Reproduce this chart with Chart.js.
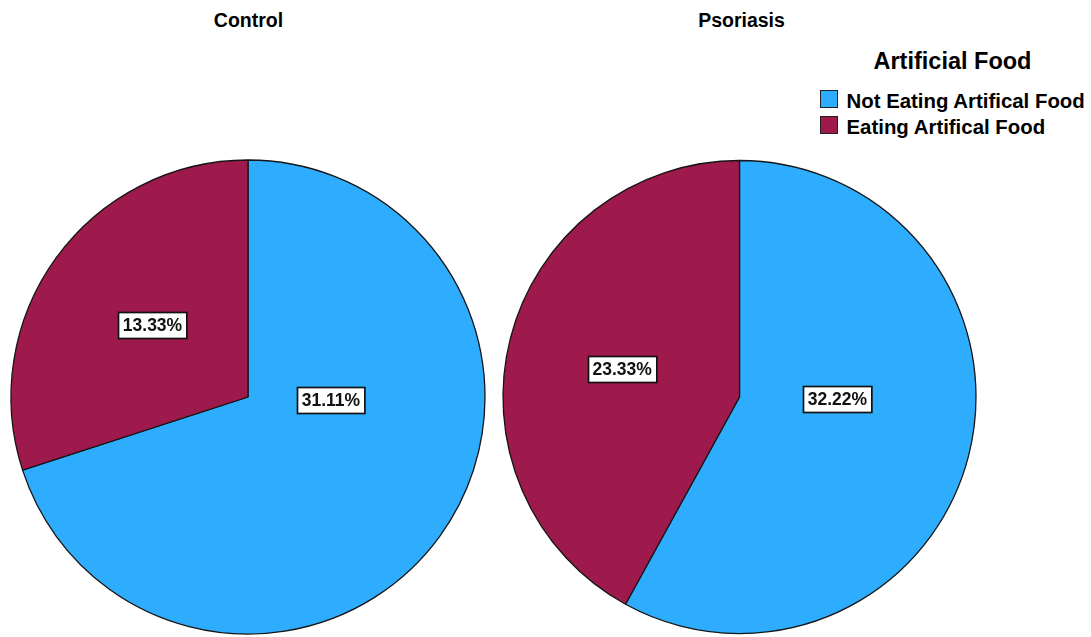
<!DOCTYPE html>
<html>
<head>
<meta charset="utf-8">
<script src="https://cdn.jsdelivr.net/npm/chart.js@4.4.1/dist/chart.umd.min.js"></script>
<style>
  html, body { margin: 0; padding: 0; background: #ffffff; }
  body { width: 1091px; height: 637px; position: relative; overflow: hidden;
         font-family: "Liberation Sans", Arial, sans-serif; color: #000; }
  canvas { position: absolute; }
  .title { position: absolute; font-weight: bold; font-size: 19.5px; line-height: 19.5px;
           white-space: nowrap; text-align: center; width: 200px; }
  .legend-title { position: absolute; font-weight: bold; font-size: 23.5px; line-height: 23.5px;
                  white-space: nowrap; left: 852.5px; width: 200px; text-align: center; top: 50px; }
  .legend-item { position: absolute; left: 820px; height: 20px; white-space: nowrap;
                 font-weight: bold; font-size: 20.4px; line-height: 20px; }
  .legend-item .swatch { position: absolute; left: 0; top: -1px; width: 16px; height: 16px;
                         border: 1.5px solid #222; }
  .legend-item .text { position: absolute; left: 26.5px; top: 0; }
</style>
</head>
<body>
<div class="title" style="left:148.5px; top:10.5px;">Control</div>
<div class="title" style="left:641.5px; top:10.5px;">Psoriasis</div>
<canvas id="pieControl" width="496" height="496" style="left:0px; top:149px;"></canvas>
<canvas id="piePsoriasis" width="497" height="496" style="left:491px; top:149px;"></canvas>
<div class="legend-title">Artificial Food</div>
<div id="legend"></div>
<script>
// Categories and percentages (share of all respondents)
const categories = ['Not Eating Artifical Food', 'Eating Artifical Food'];
const groups = ['Control', 'Psoriasis'];
const controlValues = [31.11, 13.33];
const psoriasisValues = [32.22, 23.33];
const legendTitle = 'Artificial Food';

const sliceColors = ['#2eadfe', '#9e1a4c'];
const edgeColor = '#151515';

// Value-box centres, as fractions of the pie radius from its centre
const labelOffsets = {
  Control:   [[0.350, 0.013], [-0.403, -0.304]],
  Psoriasis: [[0.414, 0.008], [-0.496, -0.118]]
};

// Draws each slice's percentage in a white box with a dark frame
const valueBoxes = {
  id: 'valueBoxes',
  afterDatasetsDraw(chart) {
    const ctx = chart.ctx;
    const meta = chart.getDatasetMeta(0);
    const values = chart.data.datasets[0].data;
    const offsets = labelOffsets[chart.options.groupName];
    ctx.save();
    ctx.font = 'bold 17.5px "Liberation Sans", Arial, sans-serif';
    ctx.textAlign = 'center';
    ctx.textBaseline = 'middle';
    meta.data.forEach((arc, i) => {
      const r = arc.outerRadius;
      const cx = arc.x + offsets[i][0] * r;
      const cy = arc.y + offsets[i][1] * r;
      const text = values[i].toFixed(2) + '%';
      const w = ctx.measureText(text).width + 9;
      const h = 26;
      const x0 = Math.round(cx - w / 2) + 0.5;
      const y0 = Math.round(cy - h / 2) + 0.5;
      ctx.fillStyle = '#ffffff';
      ctx.fillRect(x0, y0, w, h);
      ctx.lineWidth = 1.7;
      ctx.strokeStyle = '#111';
      ctx.strokeRect(x0, y0, w, h);
      ctx.fillStyle = '#111';
      ctx.fillText(text, cx, cy + 1);
    });
    ctx.restore();
  }
};

function makePie(canvasId, groupName, values, radius) {
  return new Chart(document.getElementById(canvasId), {
    type: 'pie',
    data: {
      labels: categories,
      datasets: [{
        data: values,
        backgroundColor: sliceColors,
        borderColor: edgeColor,
        borderWidth: 1.3,
        borderAlign: 'center'
      }]
    },
    options: {
      groupName: groupName,
      responsive: false,
      animation: false,
      radius: radius,
      rotation: 0,
      layout: { padding: 0 },
      plugins: {
        legend: { display: false },
        tooltip: { enabled: false },
        title: { display: false }
      }
    },
    plugins: [valueBoxes]
  });
}

makePie('pieControl', groups[0], controlValues, 237);
makePie('piePsoriasis', groups[1], psoriasisValues, 236.5);

// Legend entries
const legendEl = document.getElementById('legend');
const legendTops = [90.5, 116.5];
categories.forEach((name, i) => {
  const item = document.createElement('div');
  item.className = 'legend-item';
  item.style.top = legendTops[i] + 'px';
  const sw = document.createElement('div');
  sw.className = 'swatch';
  sw.style.background = sliceColors[i];
  const tx = document.createElement('div');
  tx.className = 'text';
  tx.textContent = name;
  item.appendChild(sw);
  item.appendChild(tx);
  legendEl.appendChild(item);
});
</script>
</body>
</html>
